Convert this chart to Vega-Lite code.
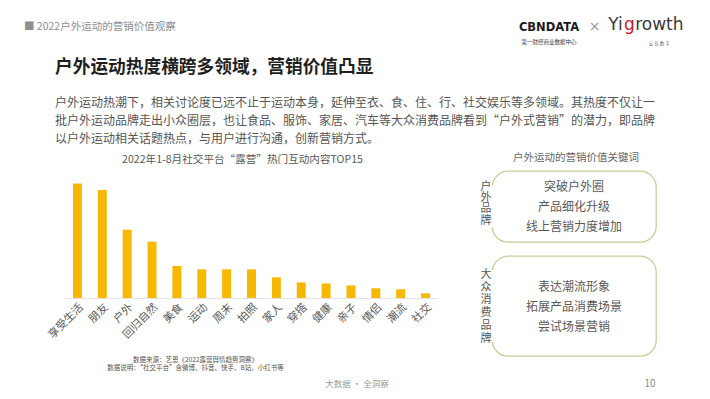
{
  "$schema": "https://vega.github.io/schema/vega-lite/v6.json",
  "background": "white",
  "padding": {"left": 24, "top": 16, "right": 5, "bottom": 5},
  "config": {
    "font": "Noto Sans CJK SC",
    "view": {"stroke": null},
    "title": {"fontWeight": "normal"}
  },
  "spacing": 0,
  "bounds": "flush",
  "vconcat": [
    {
      "spacing": 0,
      "bounds": "flush",
      "hconcat": [
        {
          "width": 452, "height": 1,
          "data": {"values": []}, "mark": "point",
          "title": {"text": "■ 2022户外运动的营销价值观察", "anchor": "start", "dx": -41, "fontSize": 10.5, "color": "#8e8e93", "offset": 13.5}
        },
        {
          "width": 64, "height": 1,
          "data": {"values": []}, "mark": "point",
          "title": {"text": "CBNDATA", "subtitle": "第一财经商业数据中心", "anchor": "middle", "font": "DejaVu Sans", "fontWeight": "bold", "fontSize": 11.5, "color": "#1a1a1a", "subtitleFont": "Noto Sans CJK SC", "subtitleFontSize": 5.5, "subtitleColor": "#333333", "subtitlePadding": 7, "offset": 0.5}
        },
        {
          "width": 27, "height": 1,
          "data": {"values": []}, "mark": "point",
          "title": {"text": "×", "anchor": "middle", "font": "DejaVu Sans", "fontSize": 14, "color": "#9a9a9a", "offset": 12.5}
        },
        {
          "width": 15.1, "height": 1,
          "data": {"values": []}, "mark": "point",
          "title": {"text": "Yi", "subtitle": "\u00a0", "anchor": "middle", "font": "DejaVu Sans", "fontSize": 17, "color": "#3a3a3a", "subtitleFont": "Noto Sans CJK SC", "subtitleFontSize": 4.5, "subtitlePadding": 6.5, "offset": 0}
        },
        {
          "width": 10.8, "height": 1,
          "data": {"values": []}, "mark": "point",
          "title": {"text": "g", "subtitle": "\u00a0", "anchor": "middle", "font": "DejaVu Sans", "fontSize": 17, "color": "#d0142c", "subtitleFont": "Noto Sans CJK SC", "subtitleFontSize": 4.5, "subtitlePadding": 6.5, "offset": 0}
        },
        {
          "width": 48.7, "height": 1,
          "data": {"values": []}, "mark": "point",
          "title": {"text": "rowth", "subtitle": "云   长   数   字", "anchor": "middle", "font": "DejaVu Sans", "fontSize": 17, "color": "#3a3a3a", "subtitleFont": "Noto Sans CJK SC", "subtitleFontSize": 4.5, "subtitleColor": "#666666", "subtitlePadding": 6.5, "offset": 0}
        }
      ]
    },
    {
      "width": 602, "height": 100.5,
      "data": {"values": []}, "mark": "point"
    },
    {
      "width": 602, "height": 24,
      "data": {"values": []}, "mark": "point",
      "title": {
        "text": "户外运动热度横跨多领域，营销价值凸显",
        "subtitle": [
          "户外运动热潮下，相关讨论度已远不止于运动本身，延伸至衣、食、住、行、社交娱乐等多领域。其热度不仅让一",
          "批户外运动品牌走出小众圈层，也让食品、服饰、家居、汽车等大众消费品牌看到“户外式营销”的潜力，即品牌",
          "以户外运动相关话题热点，与用户进行沟通，创新营销方式。"
        ],
        "anchor": "start", "dx": -10, "offset": 2,
        "fontSize": 17.7, "fontWeight": "bold", "color": "#1f1f1f",
        "subtitleFontSize": 12, "subtitleColor": "#555555", "subtitleLineHeight": 18, "subtitlePadding": 21
      }
    },
    {
      "spacing": 54,
      "bounds": "flush",
      "hconcat": [
        {
          "width": 373, "height": 127,
          "title": {"text": "2022年1-8月社交平台“露营”热门互动内容TOP15", "anchor": "middle", "dx": -9, "fontSize": 10.6, "color": "#595959", "offset": 5.5},
          "data": {"values": [
            {"topic": "享受生活", "value": 100},
            {"topic": "朋友", "value": 94.2},
            {"topic": "户外", "value": 59.6},
            {"topic": "回归自然", "value": 49.1},
            {"topic": "美食", "value": 27.9},
            {"topic": "运动", "value": 25},
            {"topic": "周末", "value": 25},
            {"topic": "拍照", "value": 25},
            {"topic": "家人", "value": 18},
            {"topic": "穿搭", "value": 13.6},
            {"topic": "健康", "value": 12.7},
            {"topic": "亲子", "value": 11},
            {"topic": "情侣", "value": 8.5},
            {"topic": "潮流", "value": 7.6},
            {"topic": "社交", "value": 4.1}
          ]},
          "mark": {"type": "bar", "color": "#f6b800"},
          "encoding": {
            "x": {
              "field": "topic", "type": "nominal", "sort": null,
              "scale": {"paddingInner": 0.64, "paddingOuter": 0.32},
              "axis": {
                "labelAngle": -45, "labelFontSize": 11, "labelColor": "#595959", "labelPadding": 3,
                "ticks": false, "domainColor": "#e3e3e3", "domainWidth": 1,
                "title": ["数据来源：艺恩《2022露营舆情趋势洞察》", "数据说明：“社交平台”含微博、抖音、快手、B站、小红书等"],
                "titleFontSize": 6.5, "titleColor": "#555555", "titleFontWeight": "normal",
                "titleX": 130, "titleY": 58.5, "titleAlign": "center", "titleBaseline": "top", "titleLineHeight": 7.5
              }
            },
            "y": {
              "field": "value", "type": "quantitative",
              "scale": {"domain": [0, 110.8], "nice": false},
              "axis": null
            }
          }
        },
        {
          "spacing": 14,
          "bounds": "flush",
          "resolve": {"scale": {"x": "independent", "y": "independent"}},
          "vconcat": [
            {
              "width": 164, "height": 71,
              "view": {"stroke": "#c8ce98", "strokeWidth": 1.3, "cornerRadius": 16},
              "title": {"text": "户外运动的营销价值关键词", "anchor": "middle", "dx": 2, "fontSize": 10.5, "color": "#666666", "offset": 8},
              "data": {"values": [
                {"role": "keyword", "rank": 1, "text": "突破户外圈"},
                {"role": "keyword", "rank": 2, "text": "产品细化升级"},
                {"role": "keyword", "rank": 3, "text": "线上营销力度增加"},
                {"role": "brand", "rank": 0, "text": "户\n外\n品\n牌"}
              ]},
              "layer": [
                {
                  "transform": [{"filter": "datum.role === 'keyword'"}],
                  "mark": {"type": "text", "fontSize": 12, "color": "#595959", "dy": 0.5},
                  "encoding": {
                    "y": {"field": "rank", "type": "ordinal", "scale": {"type": "point", "padding": 0.775}, "axis": null},
                    "text": {"field": "text"}
                  }
                },
                {
                  "transform": [{"filter": "datum.role === 'brand'"}],
                  "mark": {"type": "point", "shape": "M -0.1 -1 L 0.1 -1 L 0.1 1 L -0.1 1 Z", "size": 1764, "filled": true, "fill": "white", "opacity": 1, "strokeWidth": 0},
                  "encoding": {
                    "x": {"field": "role", "type": "nominal", "scale": {"type": "point", "domain": ["brand", "keyword", "end"], "padding": 0}, "axis": null}
                  }
                },
                {
                  "transform": [{"filter": "datum.role === 'brand'"}],
                  "mark": {"type": "text", "fontSize": 10.8, "lineBreak": "\n", "lineHeight": 11.2, "color": "#555555", "dx": -6, "dy": -19.5},
                  "encoding": {
                    "x": {"field": "role", "type": "nominal", "scale": {"type": "point", "domain": ["brand", "keyword", "end"], "padding": 0}, "axis": null},
                    "text": {"field": "text"}
                  }
                }
              ]
            },
            {
              "width": 164, "height": 100,
              "view": {"stroke": "#c8ce98", "strokeWidth": 1.3, "cornerRadius": 16},
              "data": {"values": [
                {"role": "keyword", "rank": 1, "text": "表达潮流形象"},
                {"role": "keyword", "rank": 2, "text": "拓展产品消费场景"},
                {"role": "keyword", "rank": 3, "text": "尝试场景营销"},
                {"role": "brand", "rank": 0, "text": "大\n众\n消\n费\n品\n牌"}
              ]},
              "layer": [
                {
                  "transform": [{"filter": "datum.role === 'keyword'"}],
                  "mark": {"type": "text", "fontSize": 12, "color": "#595959", "dy": 0.5},
                  "encoding": {
                    "y": {"field": "rank", "type": "ordinal", "scale": {"type": "point", "domain": [0, 1, 2, 3, 4], "padding": 0.5}, "axis": null},
                    "text": {"field": "text"}
                  }
                },
                {
                  "transform": [{"filter": "datum.role === 'brand'"}],
                  "mark": {"type": "point", "shape": "M -0.06 -1 L 0.06 -1 L 0.06 1 L -0.06 1 Z", "size": 5184, "filled": true, "fill": "white", "opacity": 1, "strokeWidth": 0},
                  "encoding": {
                    "x": {"field": "role", "type": "nominal", "scale": {"type": "point", "domain": ["brand", "keyword", "end"], "padding": 0}, "axis": null}
                  }
                },
                {
                  "transform": [{"filter": "datum.role === 'brand'"}],
                  "mark": {"type": "text", "fontSize": 11, "lineBreak": "\n", "lineHeight": 12.7, "color": "#555555", "dx": -6, "dy": -31},
                  "encoding": {
                    "x": {"field": "role", "type": "nominal", "scale": {"type": "point", "domain": ["brand", "keyword", "end"], "padding": 0}, "axis": null},
                    "text": {"field": "text"}
                  }
                }
              ]
            }
          ]
        }
      ]
    },
    {
      "width": 602, "height": 187,
      "data": {"values": []}, "mark": "point"
    },
    {
      "spacing": 0,
      "bounds": "flush",
      "hconcat": [
        {
          "width": 584, "height": 1,
          "data": {"values": []}, "mark": "point",
          "title": {"text": "大数据 · 全洞察", "orient": "bottom", "anchor": "middle", "fontSize": 8.5, "color": "#9a9a9a", "offset": 21}
        },
        {
          "width": 2, "height": 1,
          "data": {"values": []}, "mark": "point",
          "title": {"text": "10", "orient": "bottom", "anchor": "middle", "fontSize": 10, "color": "#8a8a8a", "offset": 20}
        }
      ]
    }
  ]
}
